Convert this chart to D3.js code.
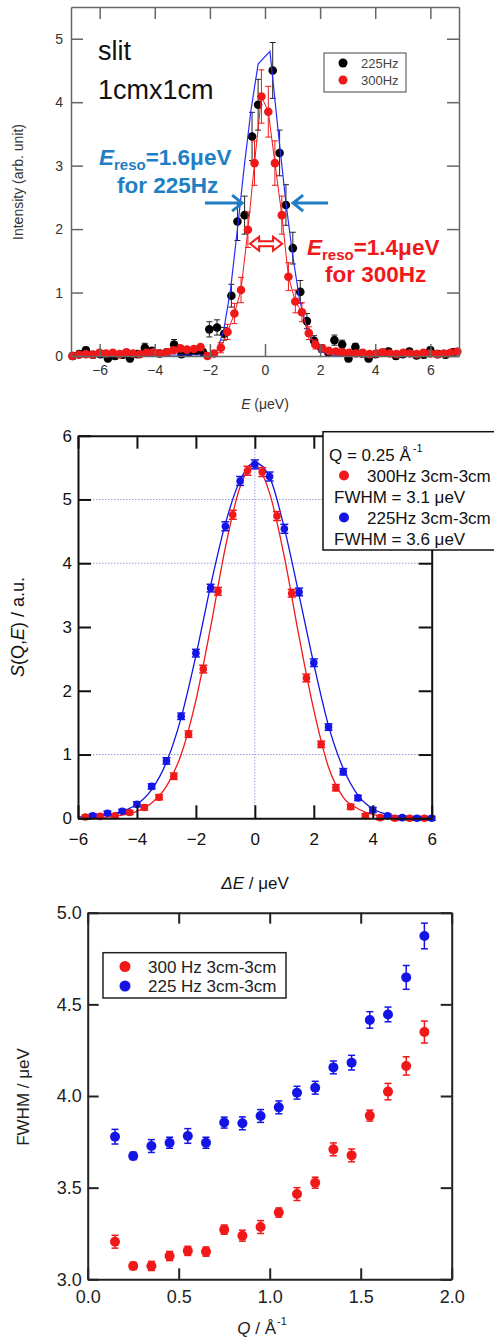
<!DOCTYPE html>
<html>
<head>
<meta charset="utf-8">
<script src="https://cdn.jsdelivr.net/npm/d3@7"></script>
<style>
body { margin: 0; background: #fff; }
svg text { font-family: "Liberation Sans", Arial, sans-serif; }
</style>
</head>
<body>
<div id="chart"></div>
<script>
// ---------- panel 1 : slit 1cm x 1cm resolution ----------
const blackX = [-6.98,-6.74,-6.50,-6.24,-5.97,-5.70,-5.44,-5.17,-4.90,-4.63,-4.36,-4.10,-3.83,-3.56,-3.30,-3.03,-2.76,-2.50,-2.25,-2.02,-1.74,-1.48,-1.22,-1.00,-0.74,-0.47,-0.25,0.28,0.53,0.76,1.01,1.28,1.52,1.78,2.05,2.30,2.52,2.80,3.03,3.28,3.52,3.76,4.02,4.25,4.48,4.75,5.00,5.24,5.50,5.76,6.00,6.27,6.55,6.84];
const blackY = [0.00,0.03,0.09,0.02,0.03,-0.04,0.00,0.02,-0.04,0.03,0.13,0.08,0.04,0.06,0.18,0.03,0.05,0.08,0.06,0.42,0.45,0.35,0.95,2.12,2.22,3.46,3.96,4.50,3.20,2.38,1.70,1.01,0.55,0.24,0.12,0.05,0.25,0.18,-0.04,0.14,0.04,-0.04,0.03,0.05,0.07,0.00,0.03,0.07,0.01,0.02,0.09,0.03,0.02,0.06];
const blackErr = [0.05,0.05,0.05,0.05,0.05,0.05,0.05,0.05,0.05,0.05,0.07,0.05,0.05,0.05,0.08,0.05,0.05,0.05,0.05,0.12,0.12,0.10,0.18,0.30,0.30,0.38,0.40,0.44,0.36,0.32,0.25,0.18,0.12,0.08,0.06,0.05,0.08,0.07,0.05,0.06,0.05,0.05,0.05,0.05,0.05,0.05,0.05,0.05,0.05,0.05,0.05,0.05,0.05,0.05];

const redX = [-6.99,-6.75,-6.50,-6.26,-6.01,-5.77,-5.52,-5.28,-5.03,-4.79,-4.54,-4.30,-4.05,-3.81,-3.56,-3.32,-3.07,-2.83,-2.58,-2.34,-2.09,-1.85,-1.60,-1.36,-1.11,-0.87,-0.62,-0.38,-0.13,0.12,0.36,0.61,0.85,1.10,1.34,1.59,1.83,2.08,2.32,2.57,2.81,3.06,3.30,3.55,3.79,4.04,4.28,4.53,4.77,5.02,5.26,5.51,5.75,6.00,6.24,6.49,6.73,6.98];
const redY = [0.00,0.02,0.03,0.02,0.05,0.04,0.05,0.03,0.06,0.04,0.03,0.05,0.06,0.04,0.06,0.09,0.12,0.10,0.11,0.14,0.00,0.04,0.13,0.38,0.67,1.04,1.99,3.04,4.09,3.85,3.04,2.22,1.25,0.86,0.69,0.36,0.18,0.12,0.08,0.07,0.06,0.05,0.04,0.05,0.03,0.04,0.06,0.04,0.03,0.05,0.04,0.03,0.05,0.04,0.03,0.04,0.05,0.07];
const redErr = [0.04,0.04,0.04,0.04,0.04,0.04,0.04,0.04,0.04,0.04,0.04,0.04,0.04,0.04,0.04,0.04,0.04,0.04,0.04,0.04,0.04,0.04,0.08,0.12,0.16,0.20,0.28,0.35,0.42,0.40,0.35,0.30,0.22,0.18,0.15,0.10,0.07,0.05,0.04,0.04,0.04,0.04,0.04,0.04,0.04,0.04,0.04,0.04,0.04,0.04,0.04,0.04,0.04,0.04,0.04,0.04,0.04,0.04];

const blueFitX = [-7,-2.0,-1.75,-1.5,-1.25,-1.0,-0.75,-0.5,-0.25,0.18,0.5,0.75,1.0,1.25,1.5,1.75,2.0,2.5,7];
const blueFitY = [0,0.02,0.08,0.40,1.05,2.0,3.0,3.9,4.6,4.8,3.45,2.45,1.6,0.9,0.45,0.2,0.07,0.01,0];

const p1xTicks = [-6,-4,-2,0,2,4,6];
const p1yTicks = [0,1,2,3,4,5];

// ---------- panel 2 : S(Q,E) at Q = 0.25 ----------
const sqeX300 = [-5.75,-5.25,-4.75,-4.25,-3.75,-3.25,-2.75,-2.25,-1.75,-1.25,-0.75,-0.25,0.25,0.75,1.25,1.75,2.25,2.75,3.25,3.75,4.25,4.75,5.25,5.75];
const sqeY300 = [0.02,0.03,0.04,0.09,0.17,0.33,0.66,1.32,2.34,3.56,4.76,5.45,5.43,4.74,3.53,2.20,1.16,0.48,0.18,0.04,0.01,0.00,0.00,0.00];
const sqeErr300 = [0.03,0.03,0.03,0.03,0.04,0.04,0.05,0.05,0.06,0.06,0.07,0.07,0.07,0.07,0.06,0.06,0.05,0.05,0.04,0.03,0.03,0.03,0.03,0.03];
const sqeX225 = [-5.5,-5.0,-4.5,-4.0,-3.5,-3.0,-2.5,-2.0,-1.5,-1.0,-0.5,0.0,0.5,1.0,1.5,2.0,2.5,3.0,3.5,4.0,4.5,5.0,5.5,6.0];
const sqeY225 = [0.04,0.08,0.11,0.22,0.50,0.90,1.60,2.59,3.61,4.58,5.29,5.55,5.36,4.54,3.55,2.44,1.43,0.73,0.32,0.13,0.04,0.01,0.00,0.00];
const sqeErr225 = [0.03,0.03,0.03,0.04,0.04,0.05,0.05,0.06,0.06,0.07,0.07,0.07,0.07,0.07,0.06,0.06,0.05,0.05,0.04,0.04,0.03,0.03,0.03,0.03];

const fitX = [-6,-5.5,-5,-4.5,-4,-3.5,-3,-2.5,-2,-1.5,-1,-0.5,0,0.5,1,1.5,2,2.5,3,3.5,4,4.5,5,5.5,6];
const fit300 = [0.00,0.01,0.02,0.05,0.11,0.24,0.50,1.00,1.85,3.00,4.25,5.20,5.53,5.10,4.10,2.85,1.70,0.80,0.33,0.15,0.06,0.02,0.01,0.00,0.00];
const fit225 = [0.02,0.04,0.06,0.11,0.22,0.45,0.88,1.58,2.55,3.65,4.62,5.30,5.58,5.35,4.55,3.50,2.42,1.45,0.78,0.36,0.15,0.06,0.02,0.01,0.00];

const p2xTicks = [-6,-4,-2,0,2,4,6];
const p2yTicks = [0,1,2,3,4,5,6];
const p2gridY = [1,4,5];
const p2gridX = [0];

// ---------- panel 3 : FWHM vs Q ----------
const qVals = [0.15,0.25,0.35,0.45,0.55,0.65,0.75,0.85,0.95,1.05,1.15,1.25,1.35,1.45,1.55,1.65,1.75,1.85];
const fwhm300 = [3.205,3.073,3.073,3.127,3.155,3.151,3.271,3.238,3.285,3.364,3.465,3.527,3.709,3.676,3.893,4.024,4.164,4.349];
const err300 = [0.035,0.02,0.025,0.025,0.025,0.025,0.025,0.03,0.035,0.025,0.035,0.03,0.035,0.035,0.03,0.045,0.05,0.06];
const fwhm225 = [3.778,3.673,3.727,3.745,3.782,3.745,3.855,3.851,3.891,3.938,4.018,4.045,4.156,4.182,4.415,4.445,4.647,4.873];
const err225 = [0.04,0.02,0.035,0.03,0.04,0.03,0.03,0.035,0.035,0.035,0.035,0.035,0.035,0.04,0.045,0.04,0.065,0.07];

const p3xTicks = [0,0.5,1.0,1.5,2.0];
const p3yTicks = [3.0,3.5,4.0,4.5,5.0];

const RED = "#f01818", BLUE = "#1414e6";

const svg = d3.select("#chart").append("svg")
  .attr("width", 494)
  .attr("height", 1342);

// box with inward ticks on all four sides
function frame(g, x, y, o) {
  const [x0, x1] = x.range(), [y0, y1] = y.range();
  g.append("g").attr("transform", `translate(0,${y0})`)
    .call(d3.axisBottom(x).tickValues(o.xt).tickFormat(o.xf).tickSizeInner(-o.tick).tickSizeOuter(0).tickPadding(o.xpad));
  g.append("g").attr("transform", `translate(0,${y1})`)
    .call(d3.axisTop(x).tickValues(o.xt).tickFormat("").tickSizeInner(-o.tick).tickSizeOuter(0));
  g.append("g").attr("transform", `translate(${x0},0)`)
    .call(d3.axisLeft(y).tickValues(o.yt).tickFormat(o.yf).tickSizeInner(-o.tick).tickSizeOuter(0).tickPadding(o.ypad));
  g.append("g").attr("transform", `translate(${x1},0)`)
    .call(d3.axisRight(y).tickValues(o.yt).tickFormat("").tickSizeInner(-o.tick).tickSizeOuter(0));
  g.selectAll(".domain, .tick line").attr("stroke", o.color).attr("stroke-width", o.sw);
  g.selectAll(".tick text").attr("fill", o.text).attr("font-size", o.fs)
    .attr("font-family", '"Liberation Sans", Arial, sans-serif');
}

function errBars(g, xs, ys, es, x, y, color, cap, sw) {
  const d = xs.map((v, i) => ({x: v, y: ys[i], e: es[i]}));
  const e = g.append("g").attr("stroke", color).attr("stroke-width", sw).attr("fill", "none");
  e.selectAll(".v").data(d).join("line")
    .attr("x1", p => x(p.x)).attr("x2", p => x(p.x))
    .attr("y1", p => y(p.y - p.e)).attr("y2", p => y(p.y + p.e));
  [-1, 1].forEach(s => {
    e.selectAll(".c" + s).data(d).join("line")
      .attr("x1", p => x(p.x) - cap).attr("x2", p => x(p.x) + cap)
      .attr("y1", p => y(p.y + s * p.e)).attr("y2", p => y(p.y + s * p.e));
  });
}

function dots(g, xs, ys, x, y, color, r) {
  g.append("g").selectAll("circle").data(xs.map((v, i) => [v, ys[i]])).join("circle")
    .attr("cx", p => x(p[0])).attr("cy", p => y(p[1])).attr("r", r).attr("fill", color);
}

// ================= panel 1 =================
const g1 = svg.append("g");
const x1 = d3.scaleLinear().domain([-7.04, 7.04]).range([71, 459]);
const y1 = d3.scaleLinear().domain([0, 5.5]).range([356, 7]);

const line1 = d3.line().x(p => x1(p[0])).y(p => y1(p[1]));
errBars(g1, blackX, blackY, blackErr, x1, y1, "#222", 3, 1);
dots(g1, blackX, blackY, x1, y1, "#000", 4.3);
g1.append("path").datum(blueFitX.map((v, i) => [v, blueFitY[i]]))
  .attr("d", line1).attr("fill", "none").attr("stroke", "#2a2aff").attr("stroke-width", 1.2);
errBars(g1, redX, redY, redErr, x1, y1, RED, 3, 1);
dots(g1, redX, redY, x1, y1, RED, 4.3);
g1.append("path").datum(redX.map((v, i) => [v, redY[i]]))
  .attr("d", line1).attr("fill", "none").attr("stroke", RED).attr("stroke-width", 1);

frame(g1, x1, y1, {xt: p1xTicks, yt: p1yTicks, xf: d3.format("d"), yf: d3.format("d"),
  tick: 12, xpad: 9, ypad: 8, color: "#666", sw: 1.5, text: "#333", fs: 14});

g1.append("text").attr("x", 265).attr("y", 409).attr("text-anchor", "middle")
  .attr("font-size", 14).attr("fill", "#333")
  .call(t => { t.append("tspan").attr("font-style", "italic").text("E"); t.append("tspan").text(" (μeV)"); });
g1.append("text").attr("transform", "translate(23,182) rotate(-90)").attr("text-anchor", "middle")
  .attr("font-size", 14).attr("fill", "#333").text("Intensity (arb. unit)");

g1.append("text").attr("x", 98).attr("y", 60).attr("font-family", "Lato, sans-serif")
  .attr("font-size", 27).attr("fill", "#111").text("slit");
g1.append("text").attr("x", 98).attr("y", 99).attr("font-family", "Lato, sans-serif")
  .attr("font-size", 27).attr("fill", "#111").text("1cmx1cm");

// legend
const lg1 = g1.append("g");
lg1.append("rect").attr("x", 324).attr("y", 53).attr("width", 82).attr("height", 39)
  .attr("fill", "#fff").attr("stroke", "#444").attr("stroke-width", 1);
[["225Hz", "#000"], ["300Hz", RED]].forEach((d, i) => {
  lg1.append("circle").attr("cx", 343).attr("cy", 63 + i * 17).attr("r", 4.5).attr("fill", d[1]);
  lg1.append("text").attr("x", 361).attr("y", 68 + i * 17).attr("font-size", 13).attr("fill", "#444").text(d[0]);
});

// resolution annotations
function resoText(g, xx, yy, val, color) {
  const t = g.append("text").attr("x", xx).attr("y", yy).attr("font-family", "Lato, sans-serif")
    .attr("font-weight", "bold").attr("font-size", 22.5).attr("fill", color);
  t.append("tspan").attr("font-style", "italic").text("E");
  t.append("tspan").attr("font-size", 15).attr("dy", 5).text("reso");
  t.append("tspan").attr("dy", -5).text("=" + val + "μeV");
}
const BLUE_T = "#1f7ec4";
resoText(g1, 99, 165, "1.6", BLUE_T);
g1.append("text").attr("x", 117).attr("y", 193).attr("font-family", "Lato, sans-serif")
  .attr("font-weight", "bold").attr("font-size", 22.5).attr("fill", BLUE_T).text("for 225Hz");
resoText(g1, 307, 255, "1.4", RED);
g1.append("text").attr("x", 325).attr("y", 282).attr("font-family", "Lato, sans-serif")
  .attr("font-weight", "bold").attr("font-size", 22.5).attr("fill", RED).text("for 300Hz");

const arrowY = 2.41;
function arrow(g, xTail, xHead, color) {
  const yy = y1(arrowY), a = x1(xTail), b = x1(xHead), s = Math.sign(b - a);
  g.append("path")
    .attr("d", `M${a},${yy}L${b},${yy}M${b - s * 10},${yy - 8}L${b},${yy}L${b - s * 10},${yy + 8}`)
    .attr("fill", "none").attr("stroke", color).attr("stroke-width", 3);
}
arrow(g1, -2.18, -0.83, BLUE_T);
arrow(g1, 2.29, 1.02, BLUE_T);
(function () {
  const yy = y1(1.77), a = x1(-0.54), b = x1(0.62), hh = 7, sh = 2.5, hl = 9;
  g1.append("path")
    .attr("d", `M${a},${yy}L${a + hl},${yy - hh}L${a + hl},${yy - sh}L${b - hl},${yy - sh}L${b - hl},${yy - hh}L${b},${yy}` +
      `L${b - hl},${yy + hh}L${b - hl},${yy + sh}L${a + hl},${yy + sh}L${a + hl},${yy + hh}Z`)
    .attr("fill", "#fff").attr("stroke", RED).attr("stroke-width", 2);
})();

// ================= panel 2 =================
const g2 = svg.append("g");
const x2 = d3.scaleLinear().domain([-6, 6]).range([78, 431.7]);
const y2 = d3.scaleLinear().domain([0, 6]).range([818.3, 435.7]);

g2.append("g").selectAll("line").data(p2gridY).join("line")
  .attr("x1", x2.range()[0]).attr("x2", x2.range()[1]).attr("y1", d => y2(d)).attr("y2", d => y2(d))
  .attr("stroke", "#9a9ad8").attr("stroke-width", 1).attr("stroke-dasharray", "1.5,1.5");
g2.append("g").selectAll("line").data(p2gridX).join("line")
  .attr("y1", y2.range()[0]).attr("y2", y2.range()[1]).attr("x1", d => x2(d)).attr("x2", d => x2(d))
  .attr("stroke", "#9a9ad8").attr("stroke-width", 1).attr("stroke-dasharray", "1.5,1.5");

const line2 = d3.line().x(p => x2(p[0])).y(p => y2(p[1])).curve(d3.curveMonotoneX);
g2.append("path").datum(fitX.map((v, i) => [v, fit225[i]]))
  .attr("d", line2).attr("fill", "none").attr("stroke", BLUE).attr("stroke-width", 1.3);
g2.append("path").datum(fitX.map((v, i) => [v, fit300[i]]))
  .attr("d", line2).attr("fill", "none").attr("stroke", RED).attr("stroke-width", 1.3);
errBars(g2, sqeX300, sqeY300, sqeErr300, x2, y2, RED, 4, 1.5);
dots(g2, sqeX300, sqeY300, x2, y2, RED, 3.8);
errBars(g2, sqeX225, sqeY225, sqeErr225, x2, y2, BLUE, 4, 1.5);
dots(g2, sqeX225, sqeY225, x2, y2, BLUE, 3.8);

frame(g2, x2, y2, {xt: p2xTicks, yt: p2yTicks, xf: d3.format("d"), yf: d3.format("d"),
  tick: 13, xpad: 15, ypad: 6, color: "#111", sw: 2, text: "#111", fs: 17});

g2.append("text").attr("transform", "translate(24,627) rotate(-90)").attr("text-anchor", "middle")
  .attr("font-size", 18).attr("fill", "#111")
  .call(t => {
    t.append("tspan").attr("font-style", "italic").text("S");
    t.append("tspan").text("(Q,");
    t.append("tspan").attr("font-style", "italic").text("E");
    t.append("tspan").text(") / a.u.");
  });
g2.append("text").attr("x", 255).attr("y", 889).attr("text-anchor", "middle")
  .attr("font-size", 17).attr("fill", "#111")
  .call(t => { t.append("tspan").attr("font-style", "italic").text("ΔE"); t.append("tspan").text(" / μeV"); });

const lg2 = g2.append("g");
lg2.append("rect").attr("x", 323).attr("y", 431.7).attr("width", 180).attr("height", 118.3)
  .attr("fill", "#fff").attr("stroke", "#111").attr("stroke-width", 1.5);
lg2.append("text").attr("x", 329).attr("y", 461).attr("font-size", 17).attr("fill", "#111")
  .call(t => {
    t.append("tspan").text("Q = 0.25  Å");
    t.append("tspan").attr("font-size", 11).attr("dy", -9).attr("dx", 2).text("-1");
  });
[["300Hz 3cm-3cm", "FWHM = 3.1 μeV", RED], ["225Hz 3cm-3cm", "FWHM = 3.6 μeV", BLUE]].forEach((d, i) => {
  const yy = 475.5 + i * 42;
  lg2.append("circle").attr("cx", 344).attr("cy", yy).attr("r", 5).attr("fill", d[2]);
  lg2.append("text").attr("x", 367).attr("y", yy + 6).attr("font-size", 17).attr("fill", "#111").text(d[0]);
  lg2.append("text").attr("x", 334).attr("y", yy + 27).attr("font-size", 17).attr("fill", "#111").text(d[1]);
});

// ================= panel 3 =================
const g3 = svg.append("g");
const x3 = d3.scaleLinear().domain([0, 2]).range([87.7, 451.7]);
const y3 = d3.scaleLinear().domain([3, 5]).range([1279.3, 912.7]);

errBars(g3, qVals, fwhm300, err300, x3, y3, RED, 3.5, 1.5);
dots(g3, qVals, fwhm300, x3, y3, RED, 5);
errBars(g3, qVals, fwhm225, err225, x3, y3, BLUE, 3.5, 1.5);
dots(g3, qVals, fwhm225, x3, y3, BLUE, 5);

frame(g3, x3, y3, {xt: p3xTicks, yt: p3yTicks, xf: d3.format(".1f"), yf: d3.format(".1f"),
  tick: 11, xpad: 11, ypad: 6, color: "#222", sw: 2, text: "#222", fs: 18});

g3.append("text").attr("transform", "translate(29,1097) rotate(-90)").attr("text-anchor", "middle")
  .attr("font-size", 17).attr("fill", "#222").text("FWHM / μeV");
g3.append("text").attr("x", 262).attr("y", 1334).attr("text-anchor", "middle")
  .attr("font-size", 17).attr("fill", "#222")
  .call(t => {
    t.append("tspan").attr("font-style", "italic").text("Q");
    t.append("tspan").text(" / Å");
    t.append("tspan").attr("font-size", 11).attr("dy", -9).attr("dx", 1).text("-1");
  });

const lg3 = g3.append("g");
lg3.append("rect").attr("x", 103).attr("y", 952.7).attr("width", 183).attr("height", 45.3)
  .attr("fill", "#fff").attr("stroke", "#222").attr("stroke-width", 1.5);
[["300 Hz 3cm-3cm", RED], ["225 Hz 3cm-3cm", BLUE]].forEach((d, i) => {
  const yy = 966.5 + i * 19.5;
  lg3.append("circle").attr("cx", 125).attr("cy", yy).attr("r", 5.5).attr("fill", d[1]);
  lg3.append("text").attr("x", 148).attr("y", yy + 6).attr("font-size", 17).attr("fill", "#222").text(d[0]);
});
</script>
</body>
</html>
